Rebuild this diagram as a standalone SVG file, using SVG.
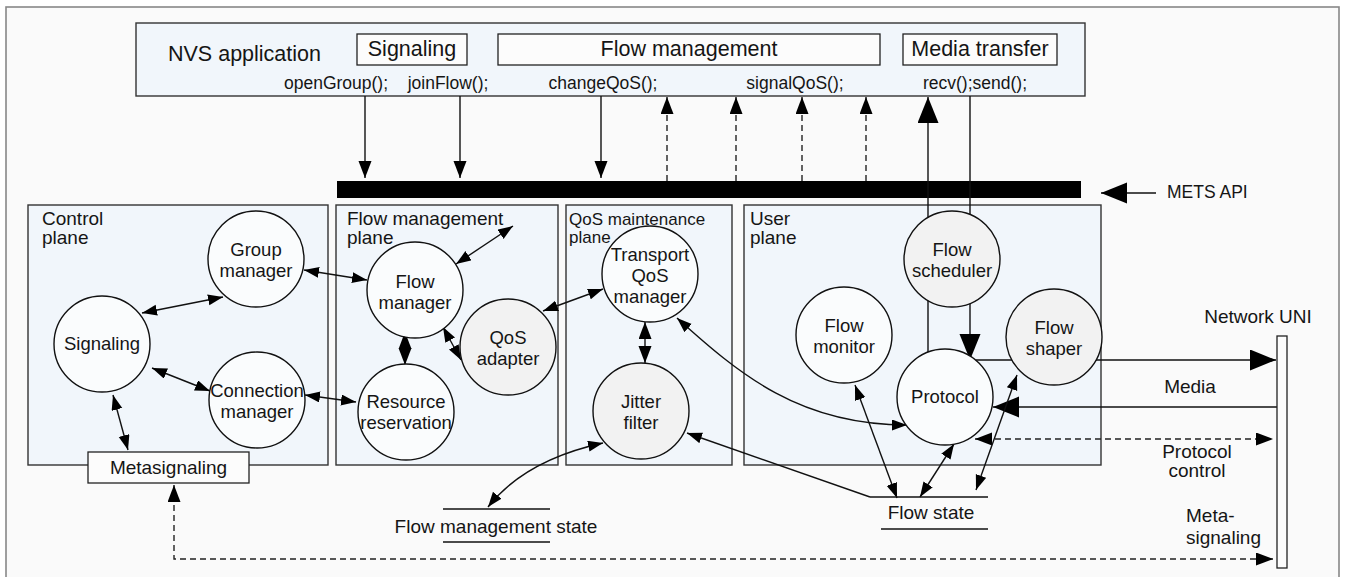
<svg xmlns="http://www.w3.org/2000/svg" width="1348" height="577" viewBox="0 0 1348 577">
<style>
text{font-family:"Liberation Sans",Arial,sans-serif;fill:#151515}
.hd{font-size:21.5px}
.fn{font-size:17.5px}
.pl{font-size:19px}
.nd{font-size:18.5px;text-anchor:middle}
.lb{font-size:19px}
.panel{fill:#f1f6fb;stroke:#333;stroke-width:1.4}
.box{fill:#fcfcfc;stroke:#222;stroke-width:1.3}
.cw{fill:#fafcfd;stroke:#111;stroke-width:1.4}
.cg{fill:#f2f2f2;stroke:#111;stroke-width:1.4}
.ln{fill:none;stroke:#111;stroke-width:1.4}
.ds{fill:none;stroke:#222;stroke-width:1.4;stroke-dasharray:6 4}
</style>
<defs>
<marker id="s" markerUnits="userSpaceOnUse" markerWidth="16" markerHeight="12" refX="15" refY="5.5" orient="auto-start-reverse"><path d="M0,0 L15,5.5 L0,11 z" fill="#000"/></marker>
<marker id="m" markerUnits="userSpaceOnUse" markerWidth="18" markerHeight="14" refX="17" refY="6.5" orient="auto-start-reverse"><path d="M0,0 L17,6.5 L0,13 z" fill="#000"/></marker>
<marker id="b" markerUnits="userSpaceOnUse" markerWidth="27" markerHeight="22" refX="26" refY="10.5" orient="auto-start-reverse"><path d="M0,0 L26,10.5 L0,21 z" fill="#000"/></marker>
</defs>
<rect x="0" y="0" width="1348" height="577" fill="#ffffff"/>
<rect x="6" y="7" width="1333" height="580" fill="#fafafa" stroke="#888" stroke-width="1.6"/>

<g id="app">
<rect x="136" y="23" width="949" height="73" class="panel"/>
<text class="hd" x="168" y="61">NVS application</text>
<rect x="357" y="34" width="110" height="31" class="box"/>
<text class="hd" x="412" y="56" text-anchor="middle">Signaling</text>
<rect x="498" y="34" width="382" height="31" class="box"/>
<text class="hd" x="689" y="56" text-anchor="middle">Flow management</text>
<rect x="903" y="34" width="154" height="31" class="box"/>
<text class="hd" x="980" y="56" text-anchor="middle">Media transfer</text>
<text class="fn" x="336" y="89" text-anchor="middle">openGroup();</text>
<text class="fn" x="448" y="89" text-anchor="middle">joinFlow();</text>
<text class="fn" x="603" y="89" text-anchor="middle">changeQoS();</text>
<text class="fn" x="795" y="89" text-anchor="middle">signalQoS();</text>
<text class="fn" x="975" y="89" text-anchor="middle">recv();send();</text>
</g>

<g id="mets-api">
<rect x="337" y="181" width="744" height="17" fill="#000"/>
<text class="fn" x="1167" y="198">METS API</text>
</g>

<g id="planes">
<rect id="control-plane" x="28" y="205" width="300" height="260" class="panel"/>
<text class="pl" x="42" y="225">Control</text><text class="pl" x="42" y="244">plane</text>
<rect id="flow-management-plane" x="336" y="205" width="222" height="260" class="panel"/>
<text class="pl" x="347" y="225">Flow management</text><text class="pl" x="347" y="244">plane</text>
<rect id="qos-maintenance-plane" x="566" y="205" width="166" height="260" class="panel"/>
<text x="569" y="225" style="font-size:17px">QoS maintenance</text><text x="569" y="243" style="font-size:17px">plane</text>
<rect id="user-plane" x="744" y="205" width="357" height="260" class="panel"/>
<text class="pl" x="750" y="225">User</text><text class="pl" x="750" y="244">plane</text>
</g>

<g id="connectors">
<line x1="365" y1="96" x2="365" y2="178" class="ln" marker-end="url(#m)"/>
<line x1="460" y1="96" x2="460" y2="178" class="ln" marker-end="url(#m)"/>
<line x1="601" y1="96" x2="601" y2="178" class="ln" marker-end="url(#m)"/>
<line x1="667" y1="181" x2="667" y2="97" class="ds" marker-end="url(#m)"/>
<line x1="736" y1="181" x2="736" y2="97" class="ds" marker-end="url(#m)"/>
<line x1="802" y1="181" x2="802" y2="97" class="ds" marker-end="url(#m)"/>
<line x1="866" y1="181" x2="866" y2="97" class="ds" marker-end="url(#m)"/>
<line x1="928" y1="352" x2="928" y2="97" class="ln" marker-end="url(#b)"/>
<line x1="970" y1="96" x2="970" y2="360" class="ln" marker-end="url(#b)"/>
<line x1="1156" y1="193" x2="1101" y2="193" class="ln" marker-end="url(#b)"/>
<line x1="976" y1="360" x2="1276" y2="360" class="ln" marker-end="url(#b)"/>
<line x1="1277" y1="407" x2="993" y2="407" class="ln" marker-end="url(#b)"/>
<line x1="975" y1="439" x2="1273" y2="439" class="ds" marker-start="url(#m)" marker-end="url(#m)"/>
<polyline points="174,485 174,559 1273,559" class="ds" marker-start="url(#m)" marker-end="url(#m)"/>
<line x1="304" y1="270" x2="367" y2="280" class="ln" marker-start="url(#s)" marker-end="url(#s)"/>
<line x1="142" y1="313" x2="223" y2="297" class="ln" marker-start="url(#s)" marker-end="url(#s)"/>
<line x1="152" y1="368" x2="210" y2="391" class="ln" marker-start="url(#s)" marker-end="url(#s)"/>
<line x1="113" y1="395" x2="128" y2="450" class="ln" marker-start="url(#s)" marker-end="url(#s)"/>
<line x1="305" y1="395" x2="356" y2="402" class="ln" marker-start="url(#s)" marker-end="url(#s)"/>
<line x1="456" y1="264" x2="513" y2="226" class="ln" marker-start="url(#s)" marker-end="url(#s)"/>
<line x1="405" y1="332" x2="405" y2="365" class="ln" marker-start="url(#m)" marker-end="url(#m)"/>
<line x1="443" y1="327" x2="461" y2="360" class="ln" marker-start="url(#s)" marker-end="url(#s)"/>
<line x1="543" y1="311" x2="603" y2="289" class="ln" marker-start="url(#s)" marker-end="url(#s)"/>
<line x1="645" y1="322" x2="645" y2="363" class="ln" marker-start="url(#m)" marker-end="url(#m)"/>
<path d="M677,318 C740,375 800,425 907,425" class="ln" marker-start="url(#s)" marker-end="url(#s)"/>
<path d="M488,507 Q525,460 603,443" class="ln" marker-start="url(#s)" marker-end="url(#s)"/>
<line x1="870" y1="497" x2="687" y2="433" class="ln" marker-end="url(#s)"/>
<line x1="855" y1="385" x2="897" y2="498" class="ln" marker-start="url(#s)" marker-end="url(#s)"/>
<line x1="954" y1="444" x2="920" y2="497" class="ln" marker-start="url(#s)" marker-end="url(#s)"/>
<line x1="1017" y1="375" x2="976" y2="490" class="ln" marker-start="url(#s)" marker-end="url(#s)"/>
</g>

<g id="group-manager"><circle cx="256" cy="259" r="48" class="cw"/><text class="nd" x="256" y="256">Group</text><text class="nd" x="256" y="277">manager</text></g>
<g id="signaling"><circle cx="102" cy="344" r="48" class="cw"/><text class="nd" x="102" y="350">Signaling</text></g>
<g id="connection-manager"><circle cx="257" cy="400" r="48" class="cw"/><text class="nd" x="257" y="397">Connection</text><text class="nd" x="257" y="418">manager</text></g>
<g id="metasignaling"><rect x="88" y="452" width="161" height="31" class="box"/><text class="lb" x="168.5" y="474" text-anchor="middle">Metasignaling</text></g>
<g id="flow-manager"><circle cx="415" cy="290" r="48" class="cw"/><text class="nd" x="415" y="288">Flow</text><text class="nd" x="415" y="309">manager</text></g>
<g id="resource-reservation"><circle cx="406" cy="412" r="48" class="cw"/><text class="nd" x="406" y="408">Resource</text><text class="nd" x="406" y="429">reservation</text></g>
<g id="qos-adapter"><circle cx="508" cy="347" r="48" class="cg"/><text class="nd" x="508" y="344">QoS</text><text class="nd" x="508" y="365">adapter</text></g>
<g id="transport-qos-manager"><circle cx="650" cy="274" r="48" class="cw"/><text class="nd" x="650" y="261">Transport</text><text class="nd" x="650" y="282">QoS</text><text class="nd" x="650" y="303">manager</text></g>
<g id="jitter-filter"><circle cx="641" cy="411" r="48" class="cg"/><text class="nd" x="641" y="408">Jitter</text><text class="nd" x="641" y="429">filter</text></g>
<g id="flow-scheduler"><circle cx="952" cy="259" r="48" class="cg"/><text class="nd" x="952" y="256">Flow</text><text class="nd" x="952" y="277">scheduler</text></g>
<g id="flow-monitor"><circle cx="844" cy="335" r="48" class="cw"/><text class="nd" x="844" y="332">Flow</text><text class="nd" x="844" y="353">monitor</text></g>
<g id="flow-shaper"><circle cx="1054" cy="337" r="48" class="cg"/><text class="nd" x="1054" y="334">Flow</text><text class="nd" x="1054" y="355">shaper</text></g>
<g id="protocol"><circle cx="945" cy="397" r="48" class="cw"/><text class="nd" x="945" y="403">Protocol</text></g>

<g id="flow-management-state">
<line x1="443" y1="509" x2="550" y2="509" class="ln"/>
<line x1="443" y1="542" x2="550" y2="542" class="ln"/>
<text class="lb" x="496" y="533" text-anchor="middle">Flow management state</text>
</g>
<g id="flow-state">
<line x1="870" y1="497" x2="988" y2="497" class="ln"/>
<line x1="881" y1="529" x2="988" y2="529" class="ln"/>
<text class="lb" x="931" y="519" text-anchor="middle">Flow state</text>
</g>

<g id="network-uni">
<rect x="1277" y="336" width="10" height="232" class="box"/>
<text class="lb" x="1258" y="323" text-anchor="middle">Network UNI</text>
</g>
<g id="labels">
<text class="lb" x="1190" y="393" text-anchor="middle">Media</text>
<text class="lb" x="1197" y="458" text-anchor="middle">Protocol</text>
<text class="lb" x="1197" y="477" text-anchor="middle">control</text>
<text class="lb" x="1186" y="522">Meta-</text>
<text class="lb" x="1186" y="544">signaling</text>
</g>
</svg>
